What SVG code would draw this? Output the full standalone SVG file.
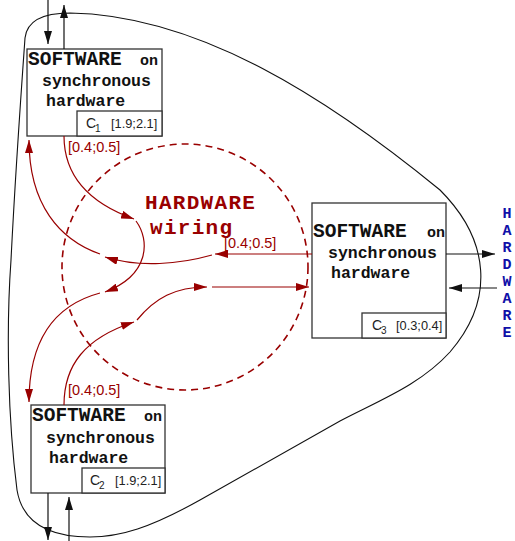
<svg xmlns="http://www.w3.org/2000/svg" width="515" height="541" viewBox="0 0 515 541">
<style>
.box{fill:#fff;stroke:#333;stroke-width:1.3}
.sw{font-family:"Liberation Mono","Courier New",monospace;font-weight:bold;fill:#111}
.big{font-size:19.5px}
.sm{font-size:15px}
.mid{font-size:16.5px}
.cl{font-family:"Liberation Sans",Arial,sans-serif;fill:#222;font-size:14px}
.sub{font-size:10px}
.rng{font-family:"Liberation Sans",Arial,sans-serif;fill:#222;font-size:12.8px}
.rl{font-family:"Liberation Sans",Arial,sans-serif;fill:#990000;font-size:14.5px}
.red{fill:none;stroke:#990000;stroke-width:1.2;marker-end:url(#ar)}
.blk{fill:none;stroke:#111;stroke-width:1.2;marker-end:url(#ab)}
.hw{font-family:"Liberation Mono","Courier New",monospace;font-weight:bold;fill:#990000;font-size:21px;letter-spacing:1.3px}
.vh{font-family:"Liberation Mono","Courier New",monospace;font-weight:bold;fill:#1010a8;font-size:15px;text-anchor:middle}
</style>
<defs>
<marker id="ar" markerUnits="userSpaceOnUse" markerWidth="14" markerHeight="8" refX="13" refY="4" orient="auto">
<path d="M0,0 L13,4 L0,8 z" fill="#990000"/>
</marker>
<marker id="ab" markerUnits="userSpaceOnUse" markerWidth="14" markerHeight="8" refX="13" refY="4" orient="auto">
<path d="M0,0 L13,4 L0,8 z" fill="#111"/>
</marker>
</defs>
<rect width="515" height="541" fill="#fff"/>
<g id="boundary">
<path d="M70,13 C200,15 330,100 440,190 C490,240 495,300 450,352 C420,385 380,400 340,421 L200,500 C150,528 120,537 90,537 C45,537 22,520 17,490 C8,420 6,330 11,260 C15,180 22,80 25,38 C27,20 45,13 70,13 Z" fill="none" stroke="#111" stroke-width="1.1"/>
</g>
<g id="wiring">
<circle cx="185" cy="267" r="123" fill="none" stroke="#990000" stroke-width="1.6" stroke-dasharray="7 5"/>
<text class="hw" x="145" y="209">HARDWARE</text>
<text class="hw" x="150" y="234">wiring</text>
</g>
<g id="c1">
<rect class="box" x="27" y="49" width="135" height="87"/>
<rect class="box" x="77" y="111" width="85" height="25"/>
<text class="sw" x="28" y="65"><tspan class="big">SOFTWARE</tspan><tspan class="sm" x="140">on</tspan></text>
<text class="sw mid" x="42" y="86">synchronous</text>
<text class="sw mid" x="46" y="106">hardware</text>
<text class="cl" x="86" y="128">C<tspan class="sub" x="95" y="131.5">1</tspan></text>
<text class="rng" x="111" y="128">[1.9;2.1]</text>
</g>
<g id="c2">
<rect class="box" x="31" y="405" width="134" height="88"/>
<rect class="box" x="82" y="468" width="83" height="25"/>
<text class="sw" x="32" y="421"><tspan class="big">SOFTWARE</tspan><tspan class="sm" x="144">on</tspan></text>
<text class="sw mid" x="46" y="443">synchronous</text>
<text class="sw mid" x="49" y="463">hardware</text>
<text class="cl" x="90" y="485">C<tspan class="sub" x="99" y="488.5">2</tspan></text>
<text class="rng" x="115" y="485">[1.9;2.1]</text>
</g>
<g id="c3">
<rect class="box" x="312" y="203" width="134" height="135"/>
<rect class="box" x="362" y="313" width="84" height="25"/>
<text class="sw" x="313" y="237"><tspan class="big">SOFTWARE</tspan><tspan class="sm" x="427">on</tspan></text>
<text class="sw mid" x="328" y="258">synchronous</text>
<text class="sw mid" x="331" y="278">hardware</text>
<text class="cl" x="372" y="330">C<tspan class="sub" x="381" y="333.5">3</tspan></text>
<text class="rng" x="396" y="330">[0.3;0.4]</text>
</g>
<g id="hardware-env">
<text class="vh" x="507" y="218">H</text>
<text class="vh" x="507" y="235">A</text>
<text class="vh" x="507" y="252">R</text>
<text class="vh" x="507" y="269">D</text>
<text class="vh" x="507" y="286">W</text>
<text class="vh" x="507" y="303">A</text>
<text class="vh" x="507" y="320">R</text>
<text class="vh" x="507" y="337">E</text>
</g>
<g id="connectors">
<path class="blk" d="M48,0 L48,44"/>
<path class="blk" d="M64,49 L64,5"/>
<path class="blk" d="M48,493 L48,540"/>
<path class="blk" d="M69,541 L69,497"/>
<path class="blk" d="M446,254 L495,254"/>
<path class="blk" d="M497,288 L449,288"/>
<path class="red" d="M64,136 C64,180 95,205 134,219"/>
<path class="red" d="M136,221 C150,240 150,275 105,292"/>
<path class="red" d="M100,293 C55,305 29,340 29,402"/>
<path class="red" d="M312,254 L215,254"/>
<path class="red" d="M212,255 C180,264 140,268 105,257"/>
<path class="red" d="M100,254 C60,240 29,205 29,140"/>
<path class="red" d="M64,405 C64,365 85,338 134,322"/>
<path class="red" d="M137,320 C155,298 175,287 207,287"/>
<path class="red" d="M212,287 L309,287"/>
<text class="rl" x="68" y="152">[0.4;0.5]</text>
<text class="rl" x="68" y="395">[0.4;0.5]</text>
<text class="rl" x="224" y="248">[0.4;0.5]</text>
</g>
</svg>
